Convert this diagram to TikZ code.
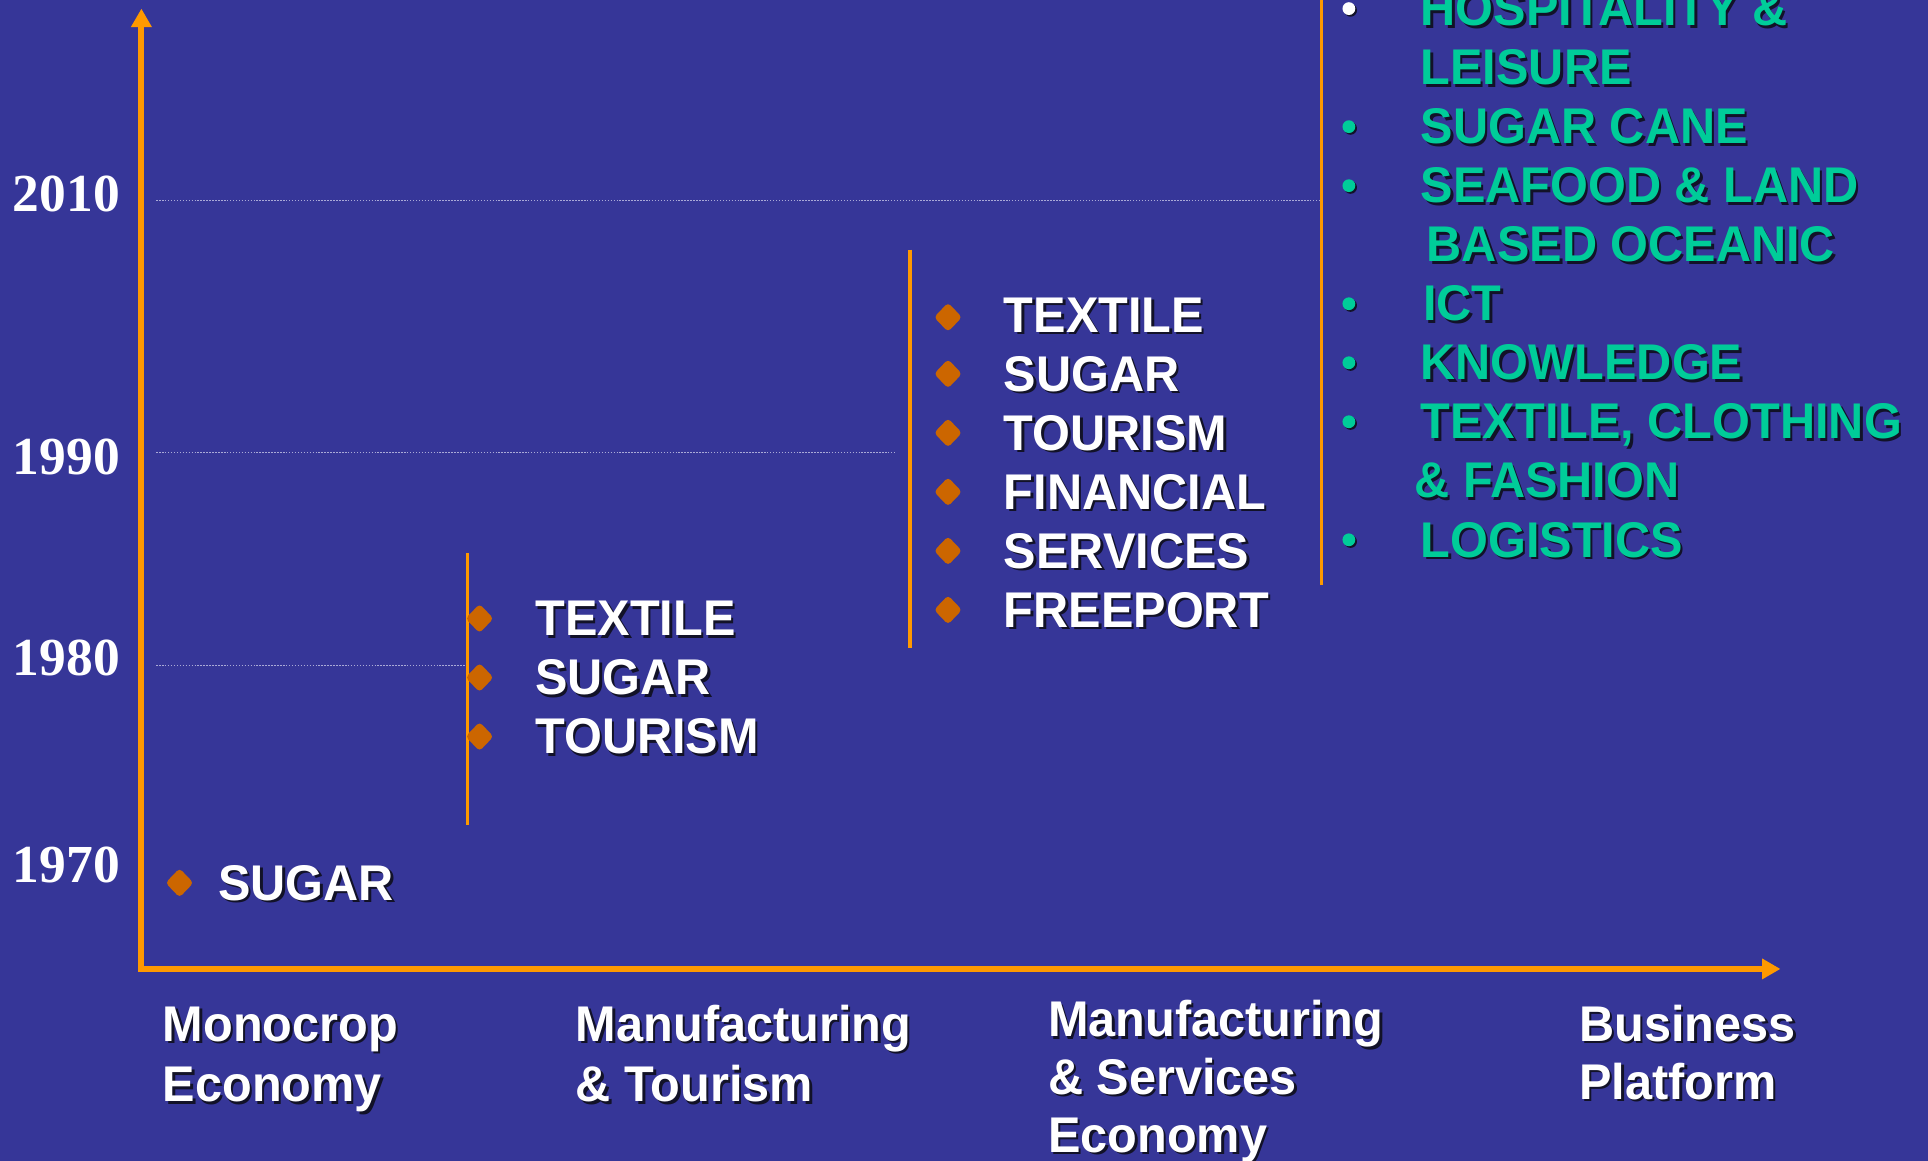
\documentclass[tikz,border=0pt]{standalone}
\usepackage{fontspec}
\setmainfont{Liberation Sans}[FakeStretch=0.97]
\newfontfamily\yearfont{Liberation Serif}
\usetikzlibrary{arrows.meta,shapes.geometric,shadows}
\definecolor{bgc}{RGB}{54,54,152}
\definecolor{axc}{RGB}{255,153,0}
\definecolor{dmc}{RGB}{204,102,0}
\definecolor{grc}{RGB}{0,204,153}
\definecolor{shc}{RGB}{18,18,40}
\definecolor{gridc}{RGB}{170,170,215}
\newcommand\shd[1]{\rlap{\kern1pt\raisebox{-1pt}{\color{shc}#1}}#1}
\begin{document}
\begin{tikzpicture}[x=0.5pt,y=-0.5pt,
  lbl/.style={anchor=base west,inner sep=0pt,text=white,font=\fontsize{20.4pt}{24pt}\selectfont\bfseries},
  glbl/.style={lbl,text=grc},
  yearlbl/.style={anchor=base west,inner sep=0pt,text=white,font=\fontsize{21.75pt}{24pt}\selectfont\yearfont\bfseries},
  dmd/.style={diamond,fill=dmc,inner sep=0pt,minimum width=11.5pt,minimum height=12pt,rounded corners=1.5pt},
  gdot/.style={circle,fill=grc,inner sep=0pt,minimum size=5.2pt,
     drop shadow={shadow xshift=0.7pt,shadow yshift=-0.7pt,opacity=1,fill=shc}},
  wdot/.style={gdot,fill=white},
  axisln/.style={draw=axc,line width=2.4pt,line join=miter},
  barln/.style={draw=axc,line width=1.3pt},
  gridln/.style={draw=gridc,line width=0.5pt,dash pattern=on 0.6pt off 0.6pt}]

\fill[bgc] (0,0) rectangle (1568,944);
\useasboundingbox (0,0) rectangle (1568,944);
\clip (0,0) rectangle (1568,944);

% axes
\coordinate (ytip) at (115,7);
\coordinate (origin) at (115,788);
\coordinate (xtip) at (1448,788);
\draw[axisln,{Triangle[length=7.5pt,width=8pt]}-{Triangle[length=7.5pt,width=8pt]}] (ytip) -- (origin) -- (xtip);

% grid lines
\coordinate (g10a) at (127,163); \coordinate (g10b) at (1075,163);
\coordinate (g90a) at (127,368); \coordinate (g90b) at (728,368);
\coordinate (g80a) at (127,541); \coordinate (g80b) at (380,541);
\draw[gridln] (g10a) -- (g10b);
\draw[gridln] (g90a) -- (g90b);
\draw[gridln] (g80a) -- (g80b);

% period bars
\coordinate (b2t) at (380,450); \coordinate (b2b) at (380,671);
\coordinate (b3t) at (740,203); \coordinate (b3b) at (740,527);
\coordinate (b4t) at (1075,-5); \coordinate (b4b) at (1075,476);
\draw[barln] (b2t) -- (b2b);
\draw[barln] (b3t) -- (b3b);
\draw[barln] (b4t) -- (b4b);

% years
\node[yearlbl] (y2010) at (10,172) {2010};
\node[yearlbl] (y1990) at (10,386) {1990};
\node[yearlbl] (y1980) at (10,549) {1980};
\node[yearlbl] (y1970) at (10,718) {1970};

% 1970
\node[dmd] (d1a) at (146,718) {};
\node[lbl] (t1a) at (177,732) {\shd{SUGAR}};

% 1980
\node[dmd] (d2a) at (390,503) {};
\node[dmd] (d2b) at (390,551) {};
\node[dmd] (d2c) at (390,599) {};
\node[lbl] (t2a) at (435,517) {\shd{TEXTILE}};
\node[lbl] (t2b) at (435,565) {\shd{SUGAR}};
\node[lbl] (t2c) at (435,613) {\shd{TOURISM}};

% 1990
\node[dmd] (d3a) at (771,258) {};
\node[dmd] (d3b) at (771,304) {};
\node[dmd] (d3c) at (771,352) {};
\node[dmd] (d3d) at (771,400) {};
\node[dmd] (d3e) at (771,448) {};
\node[dmd] (d3f) at (771,496) {};
\node[lbl] (t3a) at (816,270) {\shd{TEXTILE}};
\node[lbl] (t3b) at (816,318) {\shd{SUGAR}};
\node[lbl] (t3c) at (816,366) {\shd{TOURISM}};
\node[lbl] (t3d) at (816,414) {\shd{FINANCIAL}};
\node[lbl] (t3e) at (816,462) {\shd{SERVICES}};
\node[lbl] (t3f) at (816,510) {\shd{FREEPORT}};

% 2010
\node[wdot] (d4a) at (1097,7) {};
\node[gdot] (d4b) at (1097,103) {};
\node[gdot] (d4c) at (1097,151) {};
\node[gdot] (d4d) at (1097,247) {};
\node[gdot] (d4e) at (1097,295) {};
\node[gdot] (d4f) at (1097,343) {};
\node[gdot] (d4g) at (1097,439) {};
\node[glbl] (t4a) at (1155,21) {\shd{HOSPITALITY \&}};
\node[glbl] (t4b) at (1155,69) {\shd{LEISURE}};
\node[glbl] (t4c) at (1155,117) {\shd{SUGAR CANE}};
\node[glbl] (t4d) at (1155,165) {\shd{SEAFOOD \& LAND}};
\node[glbl] (t4e) at (1160,213) {\shd{BASED OCEANIC}};
\node[glbl] (t4f) at (1157,261) {\shd{ICT}};
\node[glbl] (t4g) at (1155,309) {\shd{KNOWLEDGE}};
\node[glbl] (t4h) at (1155,357) {\shd{TEXTILE, CLOTHING}};
\node[glbl] (t4i) at (1150,405) {\shd{\& FASHION}};
\node[glbl] (t4j) at (1155,453) {\shd{LOGISTICS}};

% x-axis stages
\node[lbl] (s1a) at (132,847) {\shd{Monocrop}};
\node[lbl] (s1b) at (132,896) {\shd{Economy}};
\node[lbl] (s2a) at (468,847) {\shd{Manufacturing}};
\node[lbl] (s2b) at (468,896) {\shd{\& Tourism}};
\node[lbl] (s3a) at (852,843) {\shd{Manufacturing}};
\node[lbl] (s3b) at (852,890) {\shd{\& Services}};
\node[lbl] (s3c) at (852,937) {\shd{Economy}};
\node[lbl] (s4a) at (1284,847) {\shd{Business}};
\node[lbl] (s4b) at (1284,894) {\shd{Platform}};
\end{tikzpicture}
\end{document}
